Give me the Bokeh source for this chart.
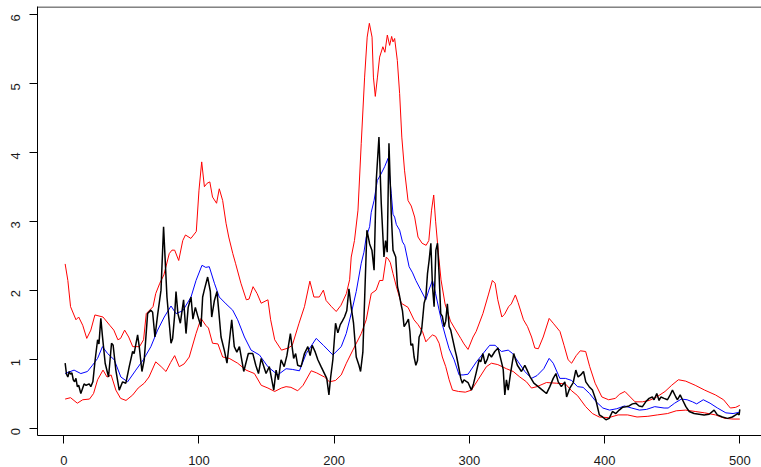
import math
from bokeh.plotting import figure
from bokeh.models import FixedTicker, Span, Range1d
from bokeh.embed import file_html
from bokeh.resources import INLINE

# ---- data ----
red_upper = [
    (1, 2.38), (3, 2.14), (5, 1.76), (9, 1.57), (11, 1.61), (14, 1.49), (17, 1.30), (20, 1.42),
    (23, 1.64), (29, 1.61), (34, 1.49), (37, 1.42), (40, 1.28), (42, 1.30), (45, 1.42), (48, 1.32),
    (51, 1.18), (56, 1.18), (59, 1.28), (61, 1.66), (66, 1.76), (68, 1.95), (71, 2.10), (74, 2.22),
    (78, 2.53), (80, 2.58), (82, 2.58), (85, 2.43), (88, 2.72), (90, 2.80), (94, 2.75), (98, 2.85),
    (100, 3.45), (102, 3.86), (104, 3.50), (106, 3.55), (108, 3.57), (110, 3.35), (113, 3.26),
    (115, 3.47), (117.5, 3.30), (120, 2.97), (122, 2.77), (125, 2.53), (127, 2.39), (131, 2.10),
    (135, 1.86), (137, 1.87), (140, 2.05), (143, 1.95), (146, 1.81), (151, 1.86), (153, 1.57),
    (156, 1.28), (161, 1.13), (166, 1.16), (169, 1.20), (174, 1.52), (178, 1.76), (182, 2.13),
    (185, 1.90), (189, 1.90), (192, 2.00), (194, 1.85), (198, 1.76), (201.5, 1.69), (205, 1.78),
    (209, 1.95), (211.4, 2.15), (212.6, 2.48), (215, 2.72), (217.6, 3.16), (220, 4.13), (222.5, 5.09),
    (224.4, 5.67), (226, 5.87), (228, 5.67), (229, 5.09), (230.4, 4.81), (232, 5.09), (233.6, 5.38),
    (236, 5.53), (237.5, 5.45), (239.3, 5.70), (241, 5.55), (242.5, 5.68), (243.5, 5.60),
    (244.7, 5.65), (246.7, 5.33), (248.4, 4.85), (250, 4.22), (252, 3.74), (254.6, 3.30),
    (257, 3.22), (259.5, 3.06), (262, 2.77), (265, 2.68), (268, 2.65), (270, 2.72), (272, 3.16),
    (273.6, 3.38), (275, 3.00), (277, 2.55), (279, 2.15), (282, 1.80), (286, 1.55), (289, 1.45),
    (293.6, 1.30), (296, 1.22), (299, 1.14), (302.7, 1.32), (305, 1.40), (310, 1.66), (314, 1.93),
    (317, 2.14), (319, 2.10), (321, 1.86), (324, 1.61), (326, 1.65), (329, 1.76), (331, 1.80),
    (334, 1.93), (336, 1.82), (340, 1.57), (343, 1.47), (346, 1.32), (348.4, 1.16), (351, 1.15),
    (354.6, 1.32), (359, 1.59), (362, 1.52), (367, 1.40), (370, 1.20), (373, 0.99), (375.6, 0.94),
    (379, 1.05), (382, 1.12), (386, 1.11), (389, 0.89), (393, 0.65), (398, 0.45), (403, 0.41),
    (408, 0.43), (411, 0.49), (415, 0.53), (419, 0.45), (422.5, 0.38), (428, 0.38), (433, 0.40),
    (438.5, 0.45), (444.7, 0.53), (449.6, 0.62), (454.6, 0.70), (460, 0.68), (467, 0.62),
    (474, 0.55), (482, 0.48), (488, 0.41), (493, 0.29), (497, 0.30), (500, 0.33),
]

red_lower = [
    (1, 0.42), (5, 0.44), (10, 0.36), (14, 0.41), (19, 0.42), (22, 0.50), (25, 0.70), (29, 0.84),
    (32, 0.74), (35, 0.77), (38.5, 0.55), (42, 0.43), (46, 0.40), (51, 0.48), (55, 0.58),
    (59.5, 0.65), (63, 0.74), (68, 0.96), (72, 0.89), (75.6, 0.82), (79, 0.95), (82, 1.05),
    (85.4, 0.89), (89, 0.93), (92.8, 1.03), (97.8, 1.37), (101.5, 1.59), (105, 1.49), (107, 1.45),
    (110, 1.23), (114, 1.22), (117.5, 1.03), (122.4, 1.01), (128.6, 0.94), (134.8, 0.84),
    (141, 0.79), (146, 0.62), (151, 0.58), (156, 0.53), (161, 0.58), (164.4, 0.60), (168, 0.59),
    (173, 0.54), (177, 0.62), (183, 0.83), (187, 0.80), (192.8, 0.74), (196.5, 0.67), (201, 0.69),
    (205.2, 0.77), (209, 0.94), (213.8, 1.13), (220, 1.37), (223.7, 1.57), (227.4, 1.95),
    (231, 2.00), (233.6, 2.14), (236, 2.14), (238.5, 2.48), (240, 2.45), (241.5, 2.40),
    (243.5, 2.24), (246, 2.05), (249.6, 1.81), (254.6, 1.75), (259, 1.57), (262, 1.50),
    (265.3, 1.40), (267.8, 1.25), (270, 1.30), (272.7, 1.35), (275, 1.33), (277.6, 1.23),
    (280, 1.03), (282.5, 0.89), (285, 0.70), (287.5, 0.55), (292, 0.53), (297, 0.52),
    (301.5, 0.55), (306.4, 0.70), (312.6, 0.89), (316.3, 0.94), (321, 0.92), (327.4, 0.86),
    (332.4, 0.82), (337.3, 0.74), (342.2, 0.67), (345.9, 0.58), (350, 0.60), (357, 0.66),
    (364.4, 0.65), (371, 0.64), (375.6, 0.54), (380, 0.47), (386, 0.31), (391, 0.21), (396, 0.16),
    (403, 0.15), (410, 0.19), (417, 0.19), (424, 0.16), (432, 0.17), (439, 0.19), (446.6, 0.21),
    (453, 0.25), (460, 0.26), (467, 0.24), (474, 0.22), (482, 0.19), (489, 0.14), (495, 0.13),
    (500, 0.13),
]

blue_mean = [
    (1, 0.79), (7.6, 0.84), (12.6, 0.79), (17.5, 0.82), (21.2, 0.91), (25, 1.01), (28.6, 1.18),
    (32.4, 1.08), (37.3, 0.99), (42.2, 0.74), (47.2, 0.67), (53.3, 0.84), (58.8, 0.99),
    (64.4, 1.18), (69.4, 1.42), (74.3, 1.61), (79.3, 1.77), (83, 1.66), (88, 1.70), (94.1, 1.90),
    (97.8, 2.14), (102.2, 2.36), (105, 2.33), (107.6, 2.34), (111.4, 2.10), (115, 1.90),
    (120, 1.80), (124.9, 1.71), (128.6, 1.57), (133.6, 1.32), (138.5, 1.13), (144.7, 1.06),
    (150.9, 0.89), (158.3, 0.77), (164.4, 0.86), (169, 0.85), (174.3, 0.83), (179.3, 1.08),
    (186.7, 1.30), (192, 1.20), (199, 1.06), (205.2, 1.18), (208.9, 1.37), (212.6, 1.66),
    (216.3, 1.98), (220, 2.39), (222, 2.55), (223.7, 2.77), (226.2, 2.92), (227.4, 3.13),
    (229.5, 3.30), (231.9, 3.59), (234.5, 3.68), (237.3, 3.79), (239.8, 3.91), (242.2, 3.40),
    (243.5, 3.10), (244.7, 3.06), (246, 2.95), (248.4, 2.87), (250.5, 2.70), (252.1, 2.65),
    (255.4, 2.34), (258, 2.25), (260.4, 2.14), (264.1, 2.00), (267.8, 1.86), (270, 2.00),
    (272.7, 2.14), (275, 1.95), (277.6, 1.71), (280, 1.50), (282.5, 1.32), (285, 1.15),
    (288.7, 0.99), (292.4, 0.77), (295.3, 0.77), (299, 0.78), (305.2, 0.96), (310.1, 1.08),
    (315, 1.20), (319, 1.20), (323.7, 1.11), (328.7, 1.13), (332, 1.08), (336.1, 0.96),
    (341, 0.82), (345.9, 0.72), (350, 0.76), (355, 0.86), (359, 1.01), (362, 0.94), (366.9, 0.72),
    (371, 0.72), (375.6, 0.69), (380, 0.60), (384.1, 0.59), (388.9, 0.50), (393.8, 0.38),
    (398.7, 0.29), (403.7, 0.26), (409, 0.28), (414.7, 0.32), (420, 0.29), (425.8, 0.26),
    (431, 0.27), (437.1, 0.31), (444, 0.29), (447, 0.29), (451.8, 0.36), (456.8, 0.42),
    (461, 0.41), (465, 0.38), (468.1, 0.35), (473, 0.41), (478, 0.36), (483.5, 0.29),
    (489.7, 0.22), (495, 0.21), (500, 0.23),
]

observed = [
    (1, 0.94), (2, 0.78), (3, 0.74), (4, 0.82), (5, 0.78), (6, 0.80), (7, 0.70), (8, 0.67),
    (9, 0.72), (10, 0.60), (11, 0.62), (12.6, 0.50), (14, 0.58), (15, 0.64), (16.5, 0.62),
    (18.8, 0.64), (20, 0.60), (21.5, 0.67), (23.2, 0.99), (25, 1.28), (26, 1.22), (27.4, 1.59),
    (28.6, 1.33), (30.6, 0.94), (33.1, 0.74), (35.3, 1.23), (36.5, 1.20), (38.5, 0.84),
    (41, 0.55), (43.5, 0.67), (45.9, 0.65), (48.4, 0.89), (50.9, 1.11), (52, 1.08), (54.6, 1.35),
    (55.8, 1.18), (57.8, 0.82), (59.5, 0.99), (62, 1.66), (64.4, 1.71), (65.7, 1.68),
    (67.4, 1.32), (69.4, 1.64), (71.9, 2.00), (73.8, 2.92), (76.3, 1.90), (79.3, 1.23),
    (80.5, 1.30), (82, 1.64), (83, 1.98), (84.4, 1.66), (86.2, 1.52), (88.6, 1.86), (90.4, 1.37),
    (92, 1.75), (94.1, 1.90), (95.5, 1.58), (97.3, 1.75), (99, 1.63), (101.5, 1.47),
    (102.7, 1.90), (103.9, 2.00), (106.4, 2.19), (108.4, 1.98), (109.4, 1.61), (111.4, 1.85),
    (113.3, 1.98), (114.6, 1.70), (116.3, 1.32), (118.7, 1.13), (120.7, 0.94), (124.2, 1.57),
    (126.1, 1.18), (128, 1.10), (129.9, 1.18), (133.1, 0.82), (136.5, 1.08), (139.8, 1.08),
    (142, 0.91), (144, 0.79), (146, 1.01), (149.6, 0.79), (152, 0.89), (155.3, 0.55), (157, 0.84),
    (158.7, 0.70), (160.7, 0.99), (163, 0.89), (165, 1.05), (167.6, 1.37), (170, 1.01),
    (171.5, 1.08), (173, 0.91), (175.5, 0.89), (178, 1.08), (180.5, 1.18), (182.2, 1.05),
    (183.7, 1.20), (186, 1.10), (187.9, 0.99), (190.3, 0.89), (192.8, 0.79), (194.5, 0.72),
    (196.1, 0.48), (197.4, 0.74), (199, 0.99), (201, 1.52), (202.7, 1.38), (204.5, 1.50),
    (206, 1.55), (207.6, 1.61), (209.3, 1.70), (210.9, 2.02), (212.6, 1.75), (214.3, 1.52),
    (216.3, 1.03), (218.3, 0.91), (219.5, 0.82), (221.2, 1.10), (224.2, 2.87), (226.2, 2.67),
    (227.9, 2.58), (229.5, 2.29), (231.1, 3.59), (233.1, 4.22), (234.8, 3.26), (236.8, 2.48),
    (238, 2.72), (239.2, 2.55), (240.5, 4.13), (242.2, 3.11), (243.5, 2.58), (245.5, 2.48),
    (246.8, 2.05), (248, 1.95), (249.3, 1.81), (250.5, 1.70), (251.7, 1.47), (253.3, 1.52),
    (254.9, 1.58), (256, 1.40), (256.7, 1.20), (258, 1.22), (259.1, 1.03), (260.4, 0.91),
    (261.6, 0.98), (262.8, 1.32), (264, 1.37), (264.8, 1.45), (266.5, 1.81), (267.8, 1.90),
    (269, 2.24), (270.2, 2.43), (271.5, 2.68), (272.7, 2.05), (273.9, 1.76), (275.2, 2.58),
    (276.4, 2.68), (277.6, 2.22), (278.8, 1.66), (280, 1.62), (281.3, 1.47), (282.5, 1.55),
    (283.7, 1.80), (285, 1.47), (286.2, 1.42), (287.5, 1.30), (289.4, 1.13), (290.4, 1.05),
    (291, 0.99), (292.4, 0.85), (293.6, 0.72), (294.8, 0.65), (296, 0.70), (297.4, 0.68),
    (299, 0.66), (301.5, 0.55), (303, 0.64), (305, 0.80), (307.2, 0.99), (308.4, 0.96),
    (310, 1.08), (311.6, 0.93), (313.3, 1.00), (314.5, 1.08), (316.3, 1.03), (318.8, 1.11),
    (321.2, 1.16), (323.7, 0.96), (325, 0.85), (326.2, 0.48), (327.4, 0.70), (328.7, 0.55),
    (330.4, 0.79), (332.8, 1.08), (334, 1.00), (335.5, 0.91), (338.5, 0.82), (341, 0.91),
    (342.7, 0.84), (344.7, 0.75), (347.7, 0.65), (350.9, 0.60), (354, 0.55), (357, 0.50),
    (359.5, 0.60), (362, 0.72), (364, 0.79), (365.7, 0.67), (368, 0.60), (370.6, 0.67),
    (371.9, 0.45), (374.3, 0.58), (376.8, 0.66), (378.7, 0.84), (380.4, 0.74), (382.3, 0.77),
    (384.4, 0.82), (386.1, 0.67), (388.6, 0.60), (391, 0.55), (393.5, 0.41), (396.1, 0.19),
    (398.5, 0.16), (401, 0.12), (403.4, 0.14), (405.8, 0.24), (408.3, 0.21), (410.8, 0.26),
    (413.2, 0.30), (415.7, 0.31), (418.1, 0.32), (420.6, 0.35), (423, 0.36), (425.5, 0.32),
    (428, 0.31), (430.4, 0.38), (432.9, 0.43), (435.3, 0.45), (436.6, 0.41), (438.6, 0.50),
    (440.3, 0.40), (441.6, 0.45), (444, 0.43), (446.5, 0.41), (448.5, 0.48), (450.2, 0.55),
    (452.7, 0.45), (453.9, 0.41), (455.9, 0.48), (457.6, 0.41), (460.1, 0.31), (462.6, 0.24),
    (466.2, 0.21), (469.9, 0.20), (473.6, 0.19), (477.3, 0.20), (481, 0.26), (483.4, 0.19),
    (487.1, 0.16), (490.9, 0.14), (494.5, 0.16), (497, 0.19), (498.3, 0.21), (499.5, 0.19),
    (500, 0.27),
]

x_ticks = [0, 100, 200, 300, 400, 500]
y_ticks = [0, 1, 2, 3, 4, 5, 6]

# ---- figure ----
Y0, Y1 = -0.1085, 6.114
p = figure(
    width=761, height=467,
    x_range=Range1d(-19.45, 516.05), y_range=Range1d(Y0, Y1),
    output_backend="svg", toolbar_location=None, title=None,
    min_border_left=37, min_border_right=0, min_border_top=6, min_border_bottom=31,
)
p.background_fill_color = "white"
p.border_fill_color = "white"
p.outline_line_color = None
p.xgrid.visible = False
p.ygrid.visible = False

FONT = "Liberation Sans"
for ax in (p.xaxis[0], p.yaxis[0]):
    ax.axis_line_color = "black"
    ax.axis_line_width = 1
    ax.major_tick_line_color = "black"
    ax.major_tick_in = 0
    ax.minor_tick_line_color = None
    ax.major_label_text_font = FONT
    ax.major_label_text_font_size = "13px"
    ax.major_label_text_color = "#1a1a1a"

p.xaxis[0].ticker = FixedTicker(ticks=x_ticks)
p.xaxis[0].major_tick_out = 8
p.xaxis[0].major_label_standoff = 12

p.yaxis[0].ticker = FixedTicker(ticks=y_ticks)
p.yaxis[0].major_tick_out = 8
p.yaxis[0].major_label_standoff = 14
p.yaxis[0].major_label_orientation = math.pi / 2

# top edge of the box
p.add_layout(Span(location=Y1 - 0.5 / 69.1, dimension="width", line_color="black", line_width=1))

def xy(pairs):
    return [a for a, _ in pairs], [b for _, b in pairs]

for series, col, lw in ((red_upper, "#FF0000", 1), (red_lower, "#FF0000", 1),
                        (blue_mean, "#0000FF", 1), (observed, "black", 1.5)):
    xs, ys = xy(series)
    p.line(xs, ys, line_color=col, line_width=lw)

open("out.html", "w").write(file_html(p, INLINE))
